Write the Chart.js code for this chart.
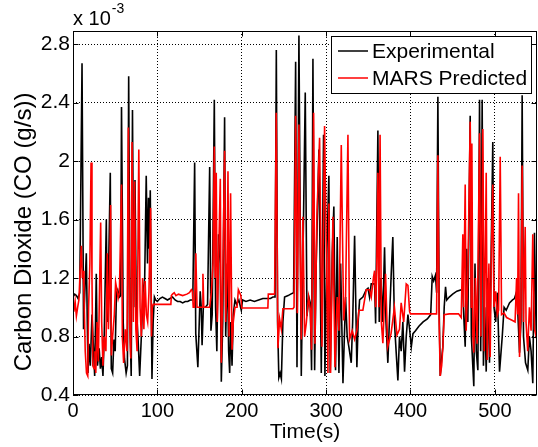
<!DOCTYPE html>
<html>
<head>
<meta charset="utf-8">
<script src="https://cdn.jsdelivr.net/npm/chart.js@4.4.1/dist/chart.umd.min.js"></script>
<style>
  html, body { margin: 0; padding: 0; background: #fff; }
  #wrap { width: 538px; height: 447px; position: relative; }
</style>
</head>
<body>
<div id="wrap"><canvas id="chart"></canvas></div>
<script>
// Values are in units of 1e-3 g/s (the axis shows "x 10^-3").

const EXP_TIME = [
  0, 2, 4, 6, 8, 10.7, 12.5, 14, 15.8, 17.8, 19, 20.5, 22.5, 25.7, 27.6, 29, 31, 32.5, 34, 35.5,
  37, 39.5, 40.5, 42, 44.2, 45.4, 47, 48.5, 50, 51.5, 53, 55, 56.5, 57.5, 59.5, 61, 63, 64.5, 66, 67.5,
  69, 70.5, 72, 73.5, 75, 77, 79, 81, 83, 85, 86.8, 88.3, 89.5, 90.5, 91.6, 93.6, 95, 96.5, 98, 100,
  103, 106, 109, 112, 115, 118, 121, 124, 127, 130, 133, 136, 139, 142, 144.2, 145.5, 148, 150.8, 152, 153,
  154.5, 157, 159.5, 162, 163.5, 165, 167.5, 169, 170.5, 172.5, 174.5, 175.8, 177.5, 179.7, 181, 183, 184.5, 185.7, 187, 188.5,
  190, 192, 194, 196.6, 199.5, 201, 205, 210, 215, 220, 225, 230, 234, 237, 239.5, 241, 242.5, 244, 245.5, 247,
  248.8, 250.8, 255, 258, 261.5, 263.9, 265.5, 267.8, 270.6, 272.5, 275.3, 277.3, 279.6, 281.2, 282.8, 284.4, 286.4, 288.3, 291.5, 294.3,
  297, 298.6, 301, 303.3, 304.9, 307.3, 309.2, 311.2, 313.2, 315.2, 317.2, 320, 323.1, 325, 327, 329.8, 331.5, 333.8, 336.5, 338,
  339.7, 343.6, 347.6, 349.7, 351.5, 353.5, 357.5, 358.7, 361.4, 363, 365, 367, 369.3, 371, 373.2, 375, 377, 379.1, 381, 383,
  385.1, 387, 389, 391, 393, 395, 397, 399, 401, 403, 406, 410, 415, 420, 424, 425.8, 427.5, 429.7, 431, 432.5,
  434, 435.3, 437, 438.4, 440, 441.6, 443, 446, 450, 455, 460.2, 462, 463.5, 464.9, 466.5, 468, 470.8, 472.2, 475.1, 476.5,
  478, 479.9, 481.9, 483.3, 485, 486.5, 488, 489.8, 491.5, 493.7, 495.5, 497.6, 499, 501, 503, 505.6, 508.8, 511, 513.5, 517.4,
  521, 523.3, 525.5, 527, 529.3, 531, 532.4, 534, 536.4, 539.1, 541, 543, 545, 547, 549, 550,
];
const EXP_CO2 = [
  1.07, 1.09, 1.08, 1.06, 1.1, 2.67, 0.85, 1.1, 1.37, 0.55, 0.75, 0.6, 0.95, 0.53, 1.23, 0.6, 0.72, 0.58, 0.66, 0.53,
  0.8, 1.6, 0.9, 1.2, 1.92, 0.58, 0.55, 0.78, 0.7, 1.1, 1.12, 1.07, 1.08, 2.37, 0.9, 0.65, 0.55, 0.6, 2.58, 0.9,
  0.53, 2.35, 1.0, 1.87, 1.0, 0.8, 0.53, 0.8, 1.1, 1.2, 1.9, 1.3, 1.75, 1.4, 1.8, 0.51, 0.9, 1.07, 1.05, 1.04,
  1.06, 1.07, 1.06, 1.05, 1.06, 1.07, 1.05, 1.04, 1.04, 1.03, 1.04, 1.04, 1.05, 1.05, 1.99, 0.82, 0.59, 1.11, 1.0, 0.74,
  1.0, 1.0, 1.02, 1.96, 0.84, 0.95, 2.42, 1.0, 0.7, 1.5, 1.3, 0.49, 0.9, 2.3, 0.8, 1.3, 0.7, 0.55, 0.9, 0.6,
  0.95, 1.05, 1.02, 1.05, 0.98, 1.05, 1.04, 1.05, 1.04, 1.05, 1.06, 1.06, 1.06, 1.07, 1.07, 2.76, 0.9, 0.52, 0.55, 0.51,
  0.9, 1.07, 1.08, 1.09, 1.1, 2.68, 0.59, 2.86, 0.53, 1.3, 2.47, 0.94, 1.07, 1.03, 0.57, 2.7, 0.57, 1.3, 2.08, 0.55,
  2.18, 0.53, 1.4, 1.9, 0.55, 1.37, 1.69, 0.57, 1.48, 0.55, 1.3, 0.48, 1.07, 0.8, 0.73, 0.62, 0.9, 1.49, 0.59, 0.9,
  1.05, 1.07, 1.12, 1.13, 1.07, 1.16, 1.16, 0.89, 2.21, 0.9, 1.2, 0.9, 1.41, 0.9, 0.62, 0.9, 1.2, 1.48, 0.9, 0.7,
  0.5, 0.8, 0.7, 0.9, 0.56, 0.8, 0.95, 0.85, 0.73, 0.82, 0.84, 0.87, 0.9, 0.92, 0.95, 1.21, 1.18, 1.22, 1.1, 2.44,
  1.0, 0.53, 0.65, 0.73, 1.0, 1.14, 1.05, 1.07, 1.09, 1.11, 1.12, 1.13, 0.9, 0.73, 1.4, 0.9, 2.31, 0.8, 0.46, 1.3,
  0.7, 0.57, 2.42, 0.7, 2.42, 0.6, 1.0, 0.56, 1.2, 0.62, 1.3, 2.13, 1.0, 0.9, 1.1, 0.56, 0.8, 1.0, 0.98, 1.03,
  1.05, 1.06, 1.1, 1.0, 0.69, 0.9, 2.45, 0.8, 0.62, 0.57, 0.8, 0.7, 0.48, 1.51, 0.82, 0.9,
];

const PRED_TIME = [
  0, 1, 2.5, 4, 5.5, 7, 8.5, 9.9, 11, 12, 13, 14.5, 16, 17.5, 18.5, 20, 21.4, 22.5, 23.5, 25,
  26, 27, 28.5, 30, 32.8, 34, 35.5, 37, 39, 40.7, 42, 43.5, 44.6, 45.5, 47, 49, 50.5, 52, 53.5, 55,
  57.5, 58.5, 60, 62, 64, 65.6, 67, 68.5, 70, 71.5, 73, 74.5, 76, 78, 79.5, 81, 82.5, 84, 85.5, 87,
  88.5, 90, 92, 93, 94, 95, 116, 116.6, 118, 120, 122, 125, 130, 135, 138, 140.3, 141.5, 142.5, 144, 145.6,
  147, 153, 154, 155, 162, 164, 166, 167.5, 168.5, 169.8, 171, 172.5, 174.6, 175.8, 177, 179.7, 181, 182.5, 183.7, 185,
  186.8, 188.5, 190, 192, 194.5, 196, 197.5, 199, 200, 231, 231.5, 239, 240.9, 242.9, 244.9, 246.9, 248.8, 260.7, 262, 263.9,
  265.9, 267.8, 270.6, 272.5, 274.5, 276.5, 279.2, 281.2, 282.8, 285.2, 286.8, 289.1, 292.3, 295.1, 298.2, 300.5, 302.2, 303.3, 305.3, 308.1,
  310.5, 313.2, 315.2, 318, 320.8, 323.1, 325.9, 327.8, 331, 333.8, 336.5, 338.9, 343.6, 347.6, 349.7, 351.5, 353.5, 356.3, 357.5, 358.7,
  360, 361.4, 362.5, 364, 365.5, 367.3, 370.5, 373, 377, 381, 384, 387, 389, 392, 395, 397, 399, 400, 431, 432.5,
  434, 435.3, 437, 438.4, 440, 446, 457, 460.2, 462.1, 463, 464.9, 466, 468, 470.8, 472, 472.8, 474, 475.1, 477, 479,
  481.9, 483.5, 485.8, 487.5, 489.8, 491, 493, 494.5, 496, 497.6, 499, 501, 503, 504.5, 506.4, 508, 511, 514, 517.4, 521,
  524, 525.8, 527, 528.1, 529.3, 531, 532.4, 534, 536, 537, 539, 541, 543, 545, 547, 549, 550,
];
const PRED_CO2 = [
  1.02, 0.97, 1.04, 0.94, 1.0, 1.05, 1.25, 1.42, 1.2, 1.25, 1.1, 0.7, 0.55, 0.53, 1.0, 1.3, 1.99, 1.2, 0.6, 0.58,
  0.7, 0.55, 0.9, 0.63, 1.58, 0.9, 0.6, 0.8, 0.7, 1.37, 0.85, 1.2, 1.7, 0.67, 0.8, 0.95, 1.17, 1.12, 1.06, 1.1,
  1.84, 0.8, 0.62, 0.85, 0.7, 2.23, 0.9, 0.65, 2.13, 0.9, 1.86, 0.85, 0.7, 2.08, 1.0, 0.8, 1.2, 0.85, 1.18, 0.95,
  0.9, 1.1, 1.68, 0.8, 1.0, 1.02, 1.02, 1.08, 1.09, 1.1, 1.08, 1.09, 1.08, 1.09, 1.1, 1.12, 1.11, 1.0, 1.0, 1.37,
  1.0, 1.0, 1.23, 1.0, 1.0, 1.1, 1.3, 2.1, 1.2, 1.92, 0.9, 1.3, 1.88, 0.62, 1.0, 2.07, 0.9, 1.2, 1.93, 0.8,
  1.78, 0.71, 0.9, 1.0, 1.0, 1.12, 1.1, 1.08, 0.995, 0.995, 1.09, 1.09, 2.33, 0.72, 0.92, 0.85, 0.99, 0.99, 1.0, 2.31,
  0.96, 2.25, 0.78, 1.62, 0.8, 0.89, 1.07, 0.99, 0.71, 2.33, 0.75, 1.62, 2.16, 0.73, 2.24, 1.3, 0.55, 1.71, 0.55, 1.62,
  0.59, 1.07, 0.84, 2.11, 0.91, 1.07, 2.18, 0.78, 0.84, 0.78, 0.84, 0.98, 0.98, 1.12, 1.12, 1.12, 1.07, 1.21, 1.25, 1.0,
  1.26, 1.92, 1.0, 2.18, 0.9, 0.755, 1.23, 0.73, 0.82, 1.0, 0.81, 0.85, 1.03, 0.9, 1.16, 1.15, 0.97, 0.955, 0.955, 2.04,
  0.9, 0.53, 0.6, 0.73, 0.95, 0.955, 0.955, 0.93, 1.5, 1.0, 1.84, 0.84, 1.2, 2.27, 1.0, 2.12, 0.8, 0.69, 1.2, 0.75,
  2.19, 0.8, 2.22, 0.7, 1.92, 0.64, 1.3, 0.66, 1.4, 1.84, 1.0, 1.11, 0.95, 0.98, 2.03, 0.95, 0.96, 0.93, 0.92, 0.91,
  0.9, 1.2, 0.95, 1.78, 0.66, 1.0, 1.97, 0.9, 1.55, 0.9, 0.7, 1.0, 0.84, 1.5, 0.85, 0.8, 0.84,
];

const X_TICKS = [0, 100, 200, 300, 400, 500];
const Y_TICKS = [0.4, 0.8, 1.2, 1.6, 2, 2.4, 2.8];

const SERIES_LABELS = ["Experimental", "MARS Predicted"];
const SERIES_COLORS = ["#000000", "#ff0000"];

const FONT = "'Liberation Sans', Arial, Helvetica, sans-serif";

/** Pair a time array with a value array as {x, y} points. */
function toPoints(times, values) {
  return times.map((t, i) => ({ x: t, y: values[i] }));
}

/** MATLAB-style frame, inward ticks, exponent label, y title and boxed legend. */
const matlabAxes = {
  id: "matlabAxes",
  afterDraw(chart) {
    const { ctx, chartArea: a, scales } = chart;
    const L = Math.round(a.left) + 0.5;
    const R = Math.round(a.right) - 0.5;
    const T = Math.round(a.top) + 0.5;
    const B = Math.round(a.bottom) - 0.5;
    ctx.save();
    ctx.strokeStyle = "#000";
    ctx.lineWidth = 1;
    ctx.beginPath();
    for (const v of X_TICKS) {
      const px = Math.round(scales.x.getPixelForValue(v)) + 0.5;
      ctx.moveTo(px, B); ctx.lineTo(px, B - 5);
      ctx.moveTo(px, T); ctx.lineTo(px, T + 5);
    }
    for (const v of Y_TICKS) {
      const py = Math.round(scales.y.getPixelForValue(v)) + 0.5;
      ctx.moveTo(L, py); ctx.lineTo(L + 5, py);
      ctx.moveTo(R, py); ctx.lineTo(R - 5, py);
    }
    ctx.stroke();
    ctx.strokeRect(L, T, R - L, B - T);

    // exponent label
    ctx.fillStyle = "#000";
    ctx.textBaseline = "alphabetic";
    ctx.textAlign = "left";
    ctx.font = "20px " + FONT;
    ctx.fillText("x 10", 73, 25);
    const w = ctx.measureText("x 10").width;
    ctx.font = "14px " + FONT;
    ctx.fillText("-3", 73 + w + 1, 13);

    // y axis title
    ctx.save();
    ctx.translate(24, 232);
    ctx.rotate(-Math.PI / 2);
    ctx.font = "24px " + FONT;
    ctx.textAlign = "center";
    ctx.textBaseline = "middle";
    ctx.fillText("Carbon Dioxide (CO (g/s))", 0, 0);
    ctx.restore();

    // legend box
    const box = { x: 331.5, y: 36.5, w: 200, h: 57 };
    ctx.fillStyle = "#fff";
    ctx.fillRect(box.x, box.y, box.w, box.h);
    ctx.strokeStyle = "#000";
    ctx.strokeRect(box.x, box.y, box.w, box.h);
    ctx.font = "21px " + FONT;
    ctx.textBaseline = "middle";
    ctx.textAlign = "left";
    SERIES_LABELS.forEach((label, i) => {
      const cy = 51 + i * 27;
      ctx.strokeStyle = SERIES_COLORS[i];
      ctx.lineWidth = 1.5;
      ctx.beginPath();
      ctx.moveTo(338, cy);
      ctx.lineTo(368, cy);
      ctx.stroke();
      ctx.fillStyle = "#000";
      ctx.fillText(label, 372, cy + 1);
    });
    ctx.restore();
  },
};

const ctx = document.getElementById("chart");
new Chart(ctx, {
  type: "line",
  data: {
    datasets: [
      {
        label: SERIES_LABELS[0],
        data: toPoints(EXP_TIME, EXP_CO2),
        borderColor: SERIES_COLORS[0],
        borderWidth: 1.6,
        pointRadius: 0,
        tension: 0,
        order: 2,
      },
      {
        label: SERIES_LABELS[1],
        data: toPoints(PRED_TIME, PRED_CO2),
        borderColor: SERIES_COLORS[1],
        borderWidth: 1.6,
        pointRadius: 0,
        tension: 0,
        order: 1,
      },
    ],
  },
  options: {
    responsive: true,
    maintainAspectRatio: false,
    animation: false,
    layout: { padding: { top: 31, right: 1, left: 0, bottom: 0 } },
    scales: {
      x: {
        type: "linear",
        min: 0,
        max: 550,
        afterBuildTicks: (s) => { s.ticks = X_TICKS.map((v) => ({ value: v })); },
        afterFit: (s) => { s.height = 52; s.paddingLeft = 0; s.paddingRight = 0; },
        grid: { color: "#000", lineWidth: 1, drawTicks: false },
        border: { display: false, dash: [1, 2] },
        ticks: {
          padding: 4,
          color: "#000",
          maxRotation: 0,
          autoSkip: false,
          font: { family: FONT, size: 20 },
        },
        title: {
          display: true,
          text: "Time(s)",
          color: "#000",
          font: { family: FONT, size: 21 },
          padding: { top: 0, bottom: 2 },
        },
      },
      y: {
        type: "linear",
        min: 0.4,
        max: 2.89,
        afterBuildTicks: (s) => { s.ticks = Y_TICKS.map((v) => ({ value: v })); },
        afterFit: (s) => { s.width = 73; s.paddingTop = 0; s.paddingBottom = 0; },
        grid: { color: "#000", lineWidth: 1, drawTicks: false },
        border: { display: false, dash: [1, 2] },
        ticks: {
          padding: 3,
          color: "#000",
          autoSkip: false,
          font: { family: FONT, size: 21 },
          callback: (v) => String(Math.round(v * 10) / 10),
        },
      },
    },
    plugins: {
      legend: { display: false },
      tooltip: { enabled: false },
    },
  },
  plugins: [matlabAxes],
});
</script>
</body>
</html>
